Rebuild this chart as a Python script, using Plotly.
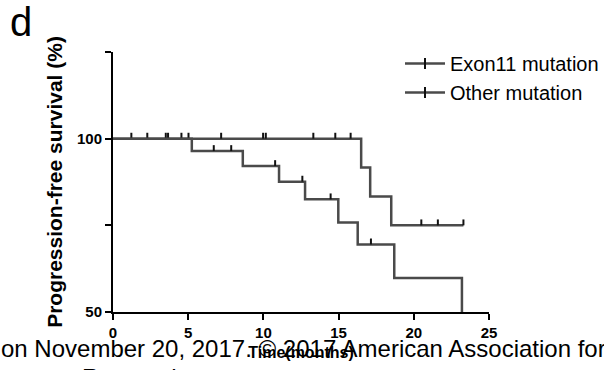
import plotly.graph_objects as go

# ---- data ----
exon11_time = [0, 16.5, 17.1, 18.5, 23.3]
exon11_surv = [100, 91.67, 83.33, 75, 75]
exon11_cens_time = [1.22, 2.28, 3.51, 3.66, 4.55, 5.02, 7.19, 9.98, 10.16, 13.32, 14.78, 15.8, 20.5, 21.6, 23.3]
exon11_cens_surv = [100, 100, 100, 100, 100, 100, 100, 100, 100, 100, 100, 100, 75, 75, 75]

other_time = [0, 5.24, 8.63, 11.04, 12.77, 14.98, 16.27, 18.7, 23.2]
other_surv = [100, 96.43, 92.1, 87.6, 82.5, 75.8, 69.5, 59.8, 0]
other_cens_time = [6.7, 7.86, 10.78, 12.59, 14.47, 17.15]
other_cens_surv = [96.43, 96.43, 92.1, 87.6, 82.5, 69.5]

series_names = ["Exon11 mutation", "Other mutation"]
x_tickvals = [0, 5, 10, 15, 20, 25]
y_tickvals = [50, 75, 100, 125]
y_ticktext = ["50", "", "100", ""]

LINE_COL = "#4a4a4a"
TICK_COL = "#111111"
FONT = "Liberation Sans, Arial, sans-serif"
CENSOR_LEN = 1.7  # height of censor tick, in % units (style)

fig = go.Figure()

for t, s, ct, cs, name in [
    (exon11_time, exon11_surv, exon11_cens_time, exon11_cens_surv, series_names[0]),
    (other_time, other_surv, other_cens_time, other_cens_surv, series_names[1]),
]:
    fig.add_trace(go.Scatter(x=t, y=s, mode="lines", line=dict(color=LINE_COL, width=2.5, shape="hv"),
                             showlegend=False, hoverinfo="skip"))
    fig.add_trace(go.Scatter(x=ct, y=cs, mode="markers",
                             marker=dict(size=1, color="rgba(0,0,0,0)"),
                             error_y=dict(type="data", symmetric=False,
                                          array=[CENSOR_LEN] * len(ct), arrayminus=[0] * len(ct),
                                          width=0, thickness=2, color=TICK_COL),
                             showlegend=False))
    # legend entry
    fig.add_trace(go.Scatter(x=[None], y=[None], mode="lines+markers", name=name,
                             line=dict(color=LINE_COL, width=2.5),
                             marker=dict(symbol="line-ns", size=8, line=dict(width=2, color=TICK_COL))))

L, R, T, B = 113, 115, 52, 58
W, H = 604, 370
pw, ph = W - L - R, H - T - B


def px(xp):
    return (xp - L) / pw


def py(yp):
    return (H - B - yp) / ph


fig.update_layout(
    width=W, height=H,
    margin=dict(l=L, r=R, t=T, b=B, autoexpand=False),
    paper_bgcolor="white", plot_bgcolor="white",
    font=dict(family=FONT, color="black"),
    showlegend=True,
    legend=dict(x=px(400), y=py(44), xanchor="left", yanchor="top",
                font=dict(size=20, family=FONT, color="black"),
                bgcolor="rgba(0,0,0,0)", itemwidth=40),
    xaxis=dict(range=[0, 25], tickvals=x_tickvals, ticks="outside", ticklen=6, tickwidth=2,
               tickcolor="black", showline=True, linewidth=2, linecolor="black",
               showgrid=False, zeroline=False, automargin=False,
               tickfont=dict(size=15, family=FONT, weight="bold"),
               title=dict(text="<b>Time(months)</b>", font=dict(size=16, family=FONT), standoff=7)),
    yaxis=dict(range=[50, 125], tickvals=y_tickvals, ticktext=y_ticktext, ticks="outside", ticklen=6,
               tickwidth=2, tickcolor="black", showline=True, linewidth=2, linecolor="black",
               showgrid=False, zeroline=False, automargin=False,
               tickfont=dict(size=15, family=FONT, weight="bold"),
               title=dict(text="<b>Progression-free survival (%)</b>", font=dict(size=21, family=FONT),
                          standoff=9)),
)

fig.add_annotation(text="d", x=px(21), y=py(22), xref="paper", yref="paper", showarrow=False,
                   xanchor="center", yanchor="middle", font=dict(size=40, family=FONT, color="black"))
fig.add_annotation(text="on November 20, 2017. © 2017 American Association for", x=px(-1), y=py(348),
                   xref="paper", yref="paper", showarrow=False, xanchor="left", yanchor="middle",
                   font=dict(size=24, family=FONT, color="black"))
fig.add_annotation(text="Research.", x=px(80), y=py(362), xref="paper", yref="paper", showarrow=False,
                   xanchor="left", yanchor="top", font=dict(size=24, family=FONT, color="black"))

fig.write_html("out.html", config={"displayModeBar": False},
               post_script="document.body.style.margin='0px';")
